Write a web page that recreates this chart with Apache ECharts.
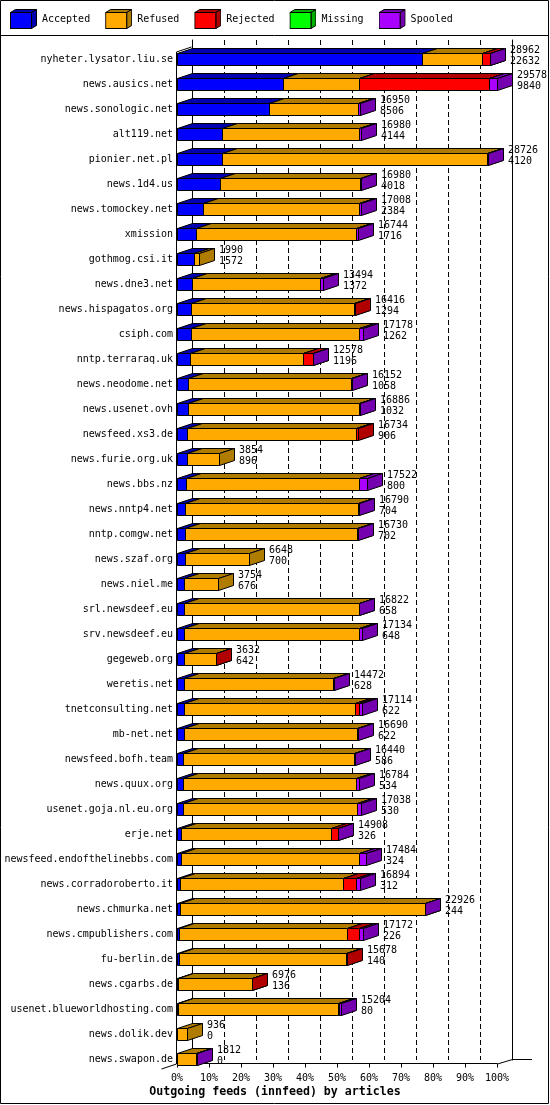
<!DOCTYPE html>
<html><head><meta charset="utf-8">
<script src="https://cdn.jsdelivr.net/npm/echarts@6/dist/echarts.min.js"></script>
<style>html,body{margin:0;padding:0;background:#fff}#c{width:550px;height:1105px}</style>
</head><body><div id="c"></div>
<script>
const hosts = ['nyheter.lysator.liu.se','news.ausics.net','news.sonologic.net','alt119.net','pionier.net.pl','news.1d4.us','news.tomockey.net','xmission','gothmog.csi.it','news.dne3.net','news.hispagatos.org','csiph.com','nntp.terraraq.uk','news.neodome.net','news.usenet.ovh','newsfeed.xs3.de','news.furie.org.uk','news.bbs.nz','news.nntp4.net','nntp.comgw.net','news.szaf.org','news.niel.me','srl.newsdeef.eu','srv.newsdeef.eu','gegeweb.org','weretis.net','tnetconsulting.net','mb-net.net','newsfeed.bofh.team','news.quux.org','usenet.goja.nl.eu.org','erje.net','newsfeed.endofthelinebbs.com','news.corradoroberto.it','news.chmurka.net','news.cmpublishers.com','fu-berlin.de','news.cgarbs.de','usenet.blueworldhosting.com','news.dolik.dev','news.swapon.de'];
const totals   = [28962,29578,16950,16980,28726,16980,17008,16744,1990,13494,16416,17178,12578,16152,16886,16734,3854,17522,16790,16730,6648,3754,16822,17134,3632,14472,17114,16690,16440,16784,17038,14908,17484,16894,22926,17172,15678,6976,15204,936,1812];
const accepted = [22632,9840,8506,4144,4120,4018,2384,1716,1572,1372,1294,1262,1196,1058,1032,906,896,800,704,702,700,676,658,648,642,628,622,622,586,534,530,326,324,312,244,226,140,136,80,0,0];
const refused  = [5587,7010,8250,12680,24504,12897,14410,14801,418,11876,15082,15560,10420,15050,15800,15650,2958,16060,16040,15980,5948,3078,16120,16180,2950,13800,15800,16020,15810,15980,16100,13950,16500,15000,22640,15500,15490,6800,14780,936,1740];
const rejected = [700,11950,0,0,0,0,0,0,0,0,40,0,930,0,0,178,0,0,0,0,0,0,0,0,40,0,440,0,0,0,0,590,0,1230,0,1100,48,40,120,0,0];
const missing  = [0,0,0,0,0,0,0,0,0,0,0,0,0,0,0,0,0,0,0,0,0,0,0,0,0,0,0,0,0,0,0,0,0,0,0,0,0,0,0,0,0];
const spooled  = [43,778,194,156,102,65,214,227,0,246,0,356,32,44,54,0,0,662,46,48,0,0,44,306,0,44,252,48,44,270,408,42,660,352,42,346,0,0,224,0,72];
const seriesNames = ['Accepted','Refused','Rejected','Missing','Spooled'];
const frontColors = ['#0000ff','#ffaa00','#ff0000','#00ff00','#aa00ff'];
const darkColors  = ['#0000b0','#b07c00','#b00000','#00b000','#7400b0'];
const axisTitle = 'Outgoing feeds (innfeed) by articles';

const segValues = [accepted, refused, rejected, missing, spooled];
const maxTotal = Math.max(...totals);
const pct = v => v / maxTotal * 100;
const DX = 15, DY = 5, HALF = 6;

const segData = seriesNames.map(() => []);
hosts.forEach((h, i) => {
  let start = 0;
  segValues.forEach((arr, k) => {
    const v = arr[i];
    if (v > 0) segData[k].push([pct(start), pct(start + v), i]);
    start += v;
  });
});

function bar3d(k) {
  return function (params, api) {
    const c = api.value(2);
    const a = api.coord([api.value(0), c]);
    const b = api.coord([api.value(1), c]);
    const x0 = Math.round(a[0]) + 0.5, x1 = Math.round(b[0]) + 0.5;
    const yc = Math.round(a[1]);
    const yT = yc - HALF + 0.5, yB = yc + HALF + 0.5;
    const st = (f) => ({ fill: f, stroke: '#000', lineWidth: 1 });
    return { type: 'group', children: [
      { type: 'polygon', shape: { points: [[x0, yT], [x0 + DX, yT - DY], [x1 + DX, yT - DY], [x1, yT]] }, style: st(darkColors[k]) },
      { type: 'rect', shape: { x: x0, y: yT, width: x1 - x0, height: yB - yT }, style: st(frontColors[k]) },
      { type: 'polygon', shape: { points: [[x1, yT], [x1 + DX, yT - DY], [x1 + DX, yB - DY], [x1, yB]] }, style: st(darkColors[k]) }
    ] };
  };
}

function legendIcon(k) {
  const svg = "<svg xmlns='http://www.w3.org/2000/svg' width='27' height='20' viewBox='0 0 27 20'>" +
    "<polygon points='0.5,3.5 5.5,0.5 26.5,0.5 21.5,3.5' fill='" + darkColors[k] + "' stroke='#000'/>" +
    "<polygon points='21.5,3.5 26.5,0.5 26.5,16.5 21.5,19.5' fill='" + darkColors[k] + "' stroke='#000'/>" +
    "<rect x='0.5' y='3.5' width='21' height='16' fill='" + frontColors[k] + "' stroke='#000'/></svg>";
  return 'image://data:image/svg+xml;charset=utf-8,' + encodeURIComponent(svg);
}

const labelData = hosts.map((h, i) => [pct(totals[i]), i, totals[i], accepted[i]]);

const series = seriesNames.map((name, k) => ({
  name, type: 'custom', xAxisIndex: 0, yAxisIndex: 0,
  itemStyle: { color: frontColors[k] },
  encode: { x: [0, 1], y: 2 },
  renderItem: bar3d(k),
  data: segData[k]
}));
series.push({
  name: 'labels', type: 'custom', xAxisIndex: 0, yAxisIndex: 0,
  encode: { x: 0, y: 1 },
  renderItem: function (params, api) {
    const p = api.coord([api.value(0), api.value(1)]);
    return { type: 'text', x: Math.round(p[0]) + 20, y: Math.round(p[1]) - 14,
      style: { text: api.value(2) + '\n' + api.value(3), fill: '#000',
        font: '10px "DejaVu Sans Mono"', lineHeight: 11, align: 'left', verticalAlign: 'top' } };
  },
  data: labelData
});

const mono = 'DejaVu Sans Mono';
const chart = echarts.init(document.getElementById('c'), null, { renderer: 'canvas' });
chart.setOption({
  animation: false,
  backgroundColor: '#ffffff',
  title: { text: axisTitle, left: 'center', top: 1086, padding: 0,
    textStyle: { fontFamily: mono, fontWeight: 'bold', fontSize: 11.6, color: '#000' } },
  legend: {
    left: 10, top: 9, padding: 0, itemWidth: 27, itemHeight: 20, itemGap: 15, itemTextGap: 8,
    selectedMode: false,
    data: seriesNames.map((n, k) => ({ name: n, icon: legendIcon(k) })),
    textStyle: { fontFamily: mono, fontSize: 10, color: '#000', width: 60 }
  },
  grid: [
    { left: 177, right: 53, top: 46.5, bottom: 33.5 },
    { left: 192, right: 38, top: 40, bottom: 45 }
  ],
  xAxis: [
    { gridIndex: 0, type: 'value', min: 0, max: 100, interval: 10, offset: -8,
      axisLine: { show: true, lineStyle: { color: '#000' } },
      axisTick: { show: true, length: 4, lineStyle: { color: '#000' } },
      axisLabel: { formatter: '{value}%', margin: 10, color: '#000', fontFamily: mono, fontSize: 10 },
      splitLine: { show: false } },
    { gridIndex: 1, type: 'value', min: 0, max: 100, interval: 10,
      axisLine: { show: false }, axisTick: { show: false }, axisLabel: { show: false },
      splitLine: { show: true, showMinLine: false, showMaxLine: false,
        lineStyle: { color: '#000', width: 1, type: [5, 3] } } }
  ],
  yAxis: [
    { gridIndex: 0, type: 'category', inverse: true, data: hosts,
      axisLine: { show: false }, axisTick: { show: false },
      axisLabel: { interval: 0, margin: 4, color: '#000', fontFamily: mono, fontSize: 10 } },
    { gridIndex: 1, type: 'value', min: 0, max: 1, position: 'left',
      axisLine: { show: true, lineStyle: { color: '#000' } }, axisTick: { show: false },
      axisLabel: { show: false }, splitLine: { show: false } },
    { gridIndex: 1, type: 'value', min: 0, max: 1, position: 'right',
      axisLine: { show: true, lineStyle: { color: '#000' } }, axisTick: { show: false },
      axisLabel: { show: false }, splitLine: { show: false } }
  ],
  graphic: [
    { type: 'rect', shape: { x: 0.5, y: 0.5, width: 548, height: 1103 }, style: { fill: 'none', stroke: '#000', lineWidth: 1 }, z: 100 },
    { type: 'line', shape: { x1: 0, y1: 35.5, x2: 549, y2: 35.5 }, style: { stroke: '#000', lineWidth: 1 } },
    { type: 'line', shape: { x1: 176.5, y1: 52, x2: 176.5, y2: 1064 }, style: { stroke: '#000', lineWidth: 1 } },
    { type: 'line', shape: { x1: 176.5, y1: 52, x2: 191.5, y2: 47 }, style: { stroke: '#000', lineWidth: 1 } },
    { type: 'line', shape: { x1: 161.5, y1: 1069, x2: 176.5, y2: 1064 }, style: { stroke: '#000', lineWidth: 1 } },
    { type: 'line', shape: { x1: 497.5, y1: 1064, x2: 512.5, y2: 1059.5 }, style: { stroke: '#000', lineWidth: 1 } },
    { type: 'line', shape: { x1: 512.5, y1: 1059.5, x2: 532, y2: 1059.5 }, style: { stroke: '#000', lineWidth: 1 } }
  ],
  series
});
</script></body></html>
